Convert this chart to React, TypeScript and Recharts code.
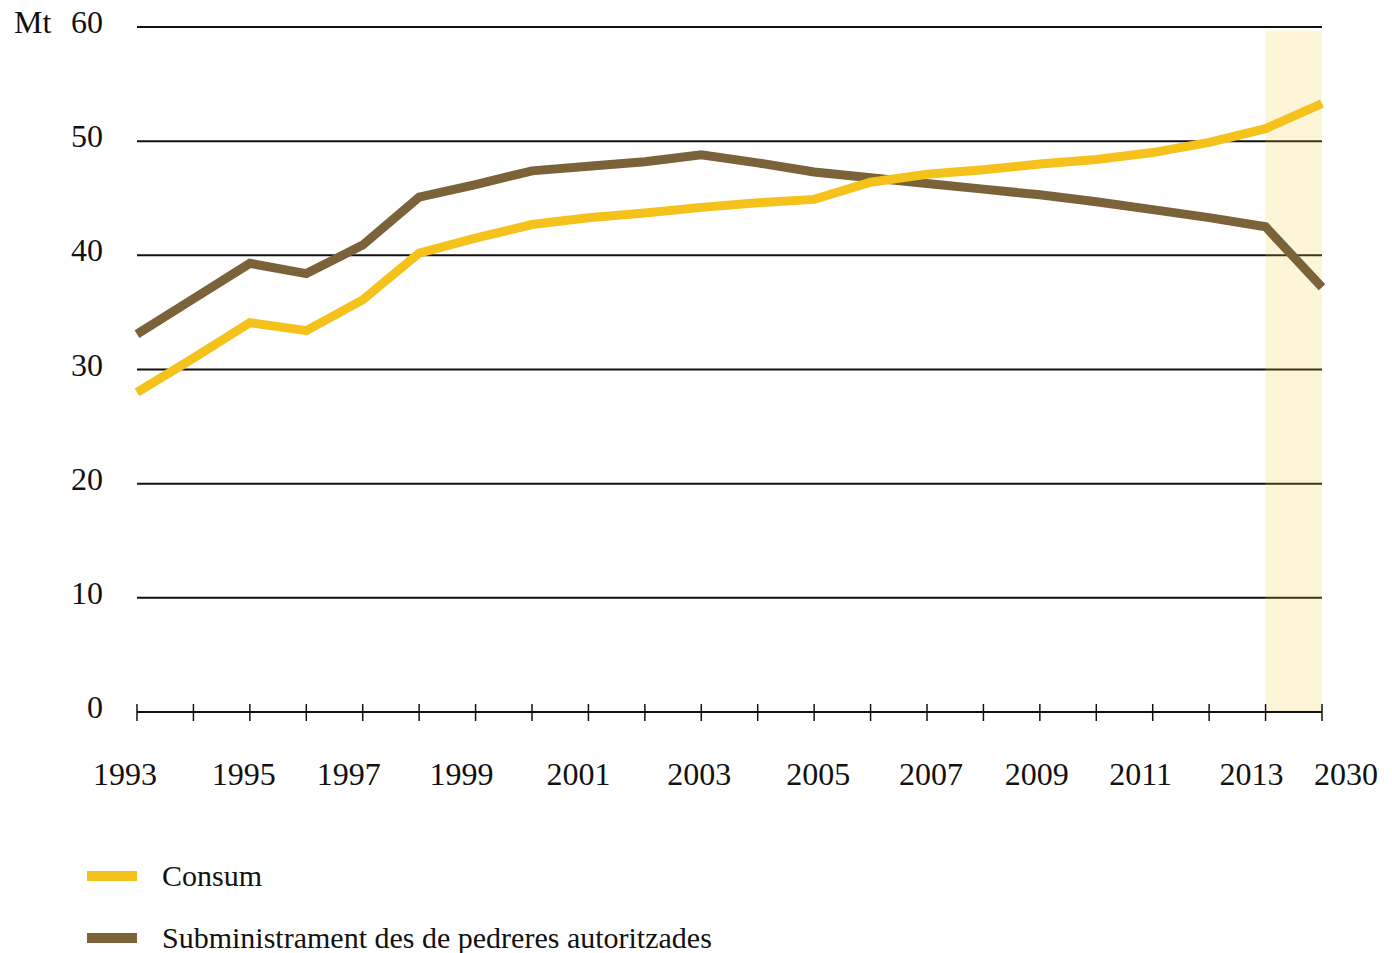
import React from 'react';
import { LineChart, Line, XAxis, YAxis, CartesianGrid, ReferenceArea } from 'recharts';

const years = ['1993','1994','1995','1996','1997','1998','1999','2000','2001','2002','2003','2004','2005','2006','2007','2008','2009','2010','2011','2012','2013','2030'];
const consum = [28.0,31.0,34.1,33.4,36.1,40.2,41.5,42.7,43.3,43.7,44.2,44.6,44.9,46.4,47.1,47.5,48.0,48.4,49.0,49.9,51.1,53.3];
const subministrament = [33.1,36.2,39.3,38.4,40.9,45.1,46.2,47.4,47.8,48.2,48.8,48.1,47.3,46.8,46.3,45.8,45.3,44.7,44.0,43.3,42.5,37.2];
const labeledYears = ['1993','1995','1997','1999','2001','2003','2005','2007','2009','2011','2013','2030'];
const yTicks = [0,10,20,30,40,50,60];
const seriesNames = ['Consum','Subministrament des de pedreres autoritzades'];
const shadeFrom = '2013';
const shadeTo = '2030';

const data = years.map((y, i) => ({ year: y, consum: consum[i], subministrament: subministrament[i] }));

const YELLOW = '#f5c21b';
const BROWN = '#7b6238';
const FONT = '"Liberation Serif", "DejaVu Serif", serif';

// small horizontal nudges of the tick labels, as printed in the original
const labelNudge: Record<string, number> = {
  '1993': -12, '1995': -6, '1997': -14, '1999': -14, '2001': -10, '2003': -2,
  '2005': 4, '2007': 4, '2009': -3, '2011': -12, '2013': -14, '2030': 24,
};

const XTick = (props: any) => {
  const { x, y, payload } = props;
  const v = String(payload.value);
  return (
    <g>
      <line x1={x} x2={x} y1={y - 8} y2={y + 9} stroke="#111" strokeWidth={1.5} />
      {labeledYears.includes(v) && (
        <text x={x + (labelNudge[v] || 0)} y={y + 73} textAnchor="middle" fontFamily={FONT} fontSize={32} fill="#111">{v}</text>
      )}
    </g>
  );
};

const YTick = (props: any) => {
  const { x, y, payload } = props;
  return (
    <g>
      <text x={x} y={y + 6} textAnchor="end" fontFamily={FONT} fontSize={32} fill="#111">{payload.value}</text>
      {payload.value === 60 && (
        <text x={14} y={y + 6} textAnchor="start" fontFamily={FONT} fontSize={32} fill="#111">Mt</text>
      )}
    </g>
  );
};

export default function App() {
  return (
    <div style={{ position: 'absolute', left: 0, top: 0, width: 1392, height: 953, background: '#fff' }}>
      <LineChart width={1392} height={953} data={data} margin={{ top: 27, right: 70, left: 0, bottom: 141 }}>
        <CartesianGrid vertical={false} stroke="#111" strokeWidth={2} strokeOpacity={1} />
        <ReferenceArea x1={shadeFrom} x2={shadeTo} y1={0} y2={59.7} fill="#f5cd3c" fillOpacity={0.2} stroke="none" ifOverflow="visible" />
        <XAxis dataKey="year" interval={0} tickSize={0} tickMargin={0} tickLine={false} axisLine={{ stroke: '#111', strokeWidth: 2 }} height={100} tick={<XTick />} />
        <YAxis domain={[0, 60]} ticks={yTicks} width={137} axisLine={false} tickLine={false} tickSize={0} tickMargin={34} tick={<YTick />} />
        <Line type="linear" dataKey="subministrament" name={seriesNames[1]} stroke={BROWN} strokeWidth={9} dot={false} isAnimationActive={false} />
        <Line type="linear" dataKey="consum" name={seriesNames[0]} stroke={YELLOW} strokeWidth={9} dot={false} isAnimationActive={false} />
      </LineChart>
      <div style={{ position: 'absolute', left: 87, top: 856, fontFamily: FONT, fontSize: 30, color: '#111' }}>
        <div style={{ display: 'flex', alignItems: 'center', height: 40 }}>
          <span style={{ display: 'inline-block', width: 50, height: 10, background: YELLOW, marginRight: 25 }} />
          <span>{seriesNames[0]}</span>
        </div>
        <div style={{ display: 'flex', alignItems: 'center', height: 40, marginTop: 22 }}>
          <span style={{ display: 'inline-block', width: 50, height: 10, background: BROWN, marginRight: 25 }} />
          <span>{seriesNames[1]}</span>
        </div>
      </div>
    </div>
  );
}
